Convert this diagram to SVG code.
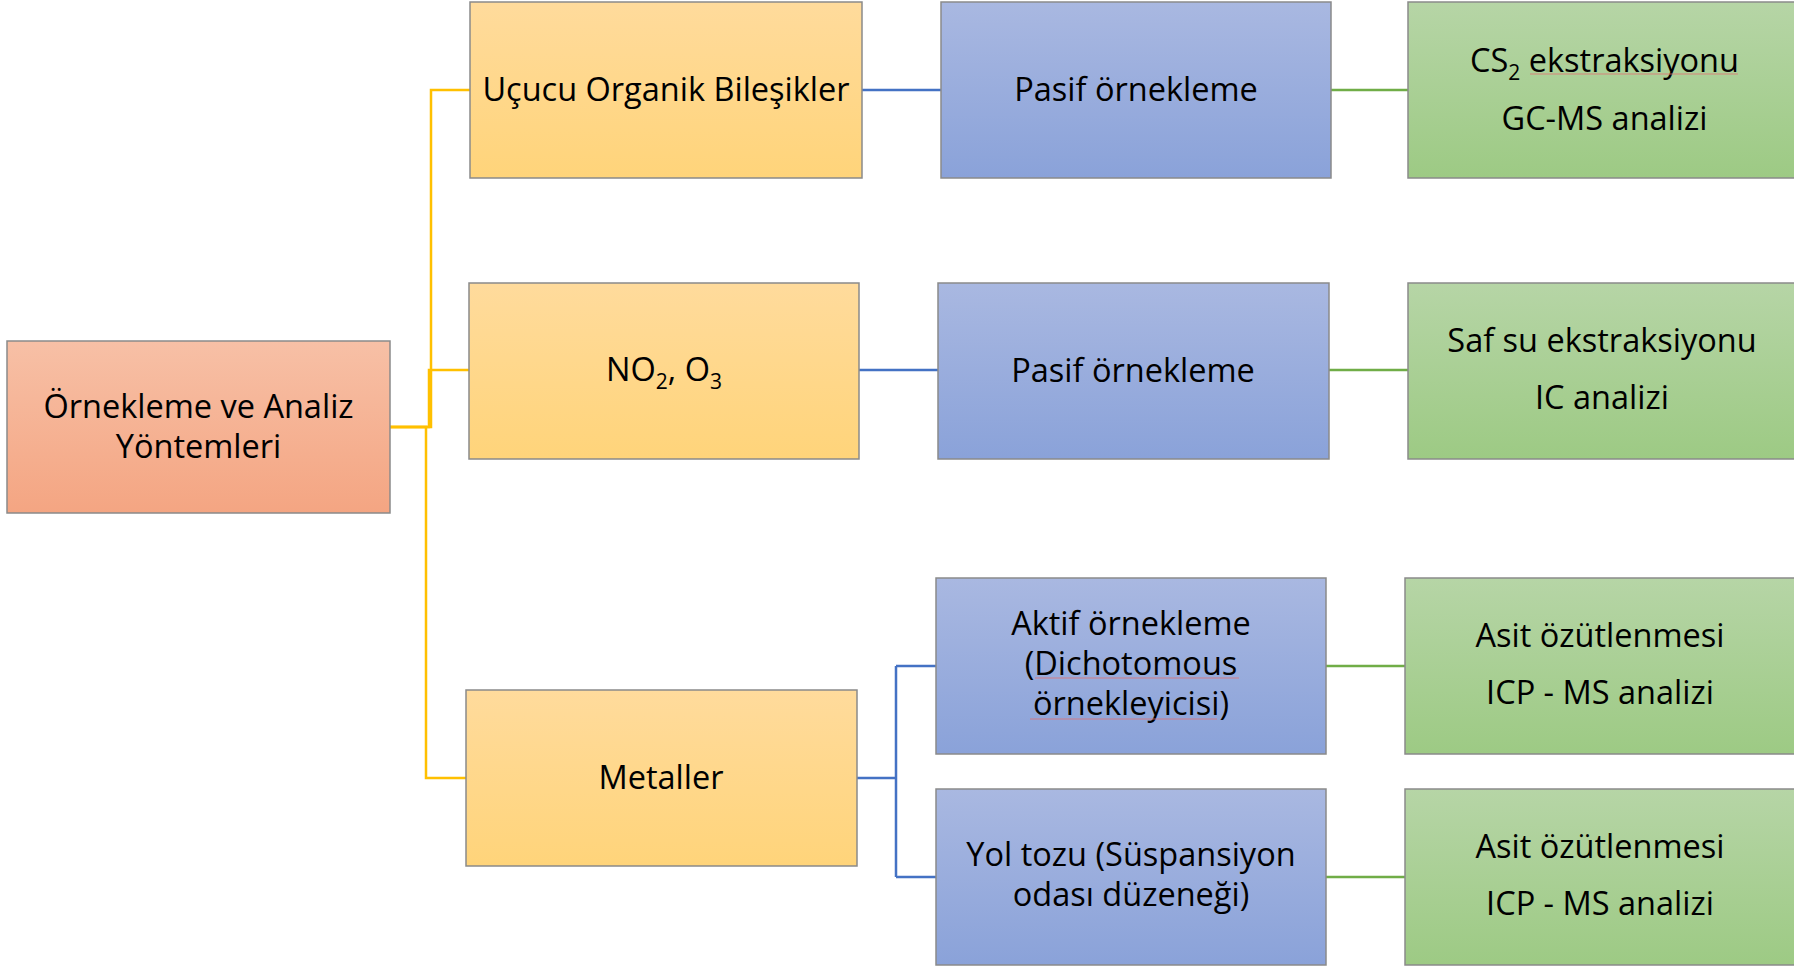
<svg xmlns="http://www.w3.org/2000/svg" width="1794" height="966" viewBox="0 0 1794 966">
  <defs>
    <linearGradient id="gOrange" x1="0" y1="0" x2="0" y2="1">
      <stop offset="0" stop-color="#F7C0A6"/>
      <stop offset="1" stop-color="#F4A582"/>
    </linearGradient>
    <linearGradient id="gYellow" x1="0" y1="0" x2="0" y2="1">
      <stop offset="0" stop-color="#FFDB9C"/>
      <stop offset="1" stop-color="#FFD47A"/>
    </linearGradient>
    <linearGradient id="gBlue" x1="0" y1="0" x2="0" y2="1">
      <stop offset="0" stop-color="#A9B8E1"/>
      <stop offset="1" stop-color="#8AA2D9"/>
    </linearGradient>
    <linearGradient id="gGreen" x1="0" y1="0" x2="0" y2="1">
      <stop offset="0" stop-color="#B6D5A6"/>
      <stop offset="1" stop-color="#9DCA84"/>
    </linearGradient>
  </defs>
  <style>
    .box { stroke: #8A8A8A; stroke-width: 1.5; }
    .orange { fill: url(#gOrange); }
    .yellow { fill: url(#gYellow); }
    .blue { fill: url(#gBlue); }
    .green { fill: url(#gGreen); }
    .t { font-family: "Open Sans", "Liberation Sans", sans-serif; font-size: 32.5px; fill: #000; text-anchor: middle; }
    .sub { font-size: 21px; }
    .cy { fill: none; stroke: #FFC000; stroke-width: 2.5; }
    .cb { fill: none; stroke: #4472C4; stroke-width: 2.5; }
    .cg { fill: none; stroke: #70AD47; stroke-width: 2.5; }
    .spell { fill: none; stroke: #E07070; stroke-width: 1; opacity: 0.8; }
  </style>

  <rect width="1794" height="966" fill="#FFFFFF"/>

  <g id="connectors">
    <path class="cy" d="M390 427 H431 V90 H470"/>
    <path class="cy" d="M390 427 H429 V370 H469"/>
    <path class="cy" d="M390 427 H426 V778 H466"/>
    <path class="cb" d="M862 90 H941"/>
    <path class="cb" d="M859 370 H938"/>
    <path class="cb" d="M857 778 H896 M896 666 V877 M896 666 H936 M896 877 H936"/>
    <path class="cg" d="M1331 90 H1408"/>
    <path class="cg" d="M1329 370 H1408"/>
    <path class="cg" d="M1326 666 H1405"/>
    <path class="cg" d="M1326 877 H1405"/>
  </g>

  <g id="root">
    <rect class="box orange" x="7" y="341" width="383" height="172"/>
    <text class="t" x="198.5" y="418">Örnekleme ve Analiz</text>
    <text class="t" x="198.5" y="458">Yöntemleri</text>
  </g>

  <g id="voc">
    <rect class="box yellow" x="470" y="2" width="392" height="176"/>
    <text class="t" x="666" y="101">Uçucu Organik Bileşikler</text>
  </g>

  <g id="no2o3">
    <rect class="box yellow" x="469" y="283" width="390" height="176"/>
    <text class="t" x="664" y="381">NO<tspan class="sub" dy="8">2</tspan><tspan dy="-8">, O</tspan><tspan class="sub" dy="8">3</tspan></text>
  </g>

  <g id="metaller">
    <rect class="box yellow" x="466" y="690" width="391" height="176"/>
    <text class="t" x="661" y="789">Metaller</text>
  </g>

  <g id="pasif1">
    <rect class="box blue" x="941" y="2" width="390" height="176"/>
    <text class="t" x="1136" y="101">Pasif örnekleme</text>
  </g>

  <g id="pasif2">
    <rect class="box blue" x="938" y="283" width="391" height="176"/>
    <text class="t" x="1133" y="381.5">Pasif örnekleme</text>
  </g>

  <g id="aktif">
    <rect class="box blue" x="936" y="578" width="390" height="176"/>
    <text class="t" x="1131" y="635">Aktif örnekleme</text>
    <text class="t" x="1131" y="675">(Dichotomous</text>
    <text class="t" x="1131" y="715">örnekleyicisi)</text>
    <path class="spell" d="M1035 678 H1239 M1030 719 H1217"/>
  </g>

  <g id="yoltozu">
    <rect class="box blue" x="936" y="789" width="390" height="176"/>
    <text class="t" x="1131" y="866">Yol tozu (Süspansiyon</text>
    <text class="t" x="1131" y="906">odası düzeneği)</text>
  </g>

  <g id="cs2">
    <rect class="box green" x="1408" y="2" width="400" height="176"/>
    <text class="t" x="1604.5" y="72">CS<tspan class="sub" dy="8">2</tspan><tspan dy="-8"> ekstraksiyonu</tspan></text>
    <text class="t" x="1604.5" y="130">GC-MS analizi</text>
    <path class="spell" d="M1530 74 H1738"/>
  </g>

  <g id="safsu">
    <rect class="box green" x="1408" y="283" width="400" height="176"/>
    <text class="t" x="1602" y="352">Saf su ekstraksiyonu</text>
    <text class="t" x="1602" y="409">IC analizi</text>
  </g>

  <g id="asit1">
    <rect class="box green" x="1405" y="578" width="400" height="176"/>
    <text class="t" x="1600" y="647">Asit özütlenmesi</text>
    <text class="t" x="1600" y="704">ICP - MS analizi</text>
  </g>

  <g id="asit2">
    <rect class="box green" x="1405" y="789" width="400" height="176"/>
    <text class="t" x="1600" y="858">Asit özütlenmesi</text>
    <text class="t" x="1600" y="915">ICP - MS analizi</text>
  </g>
</svg>
